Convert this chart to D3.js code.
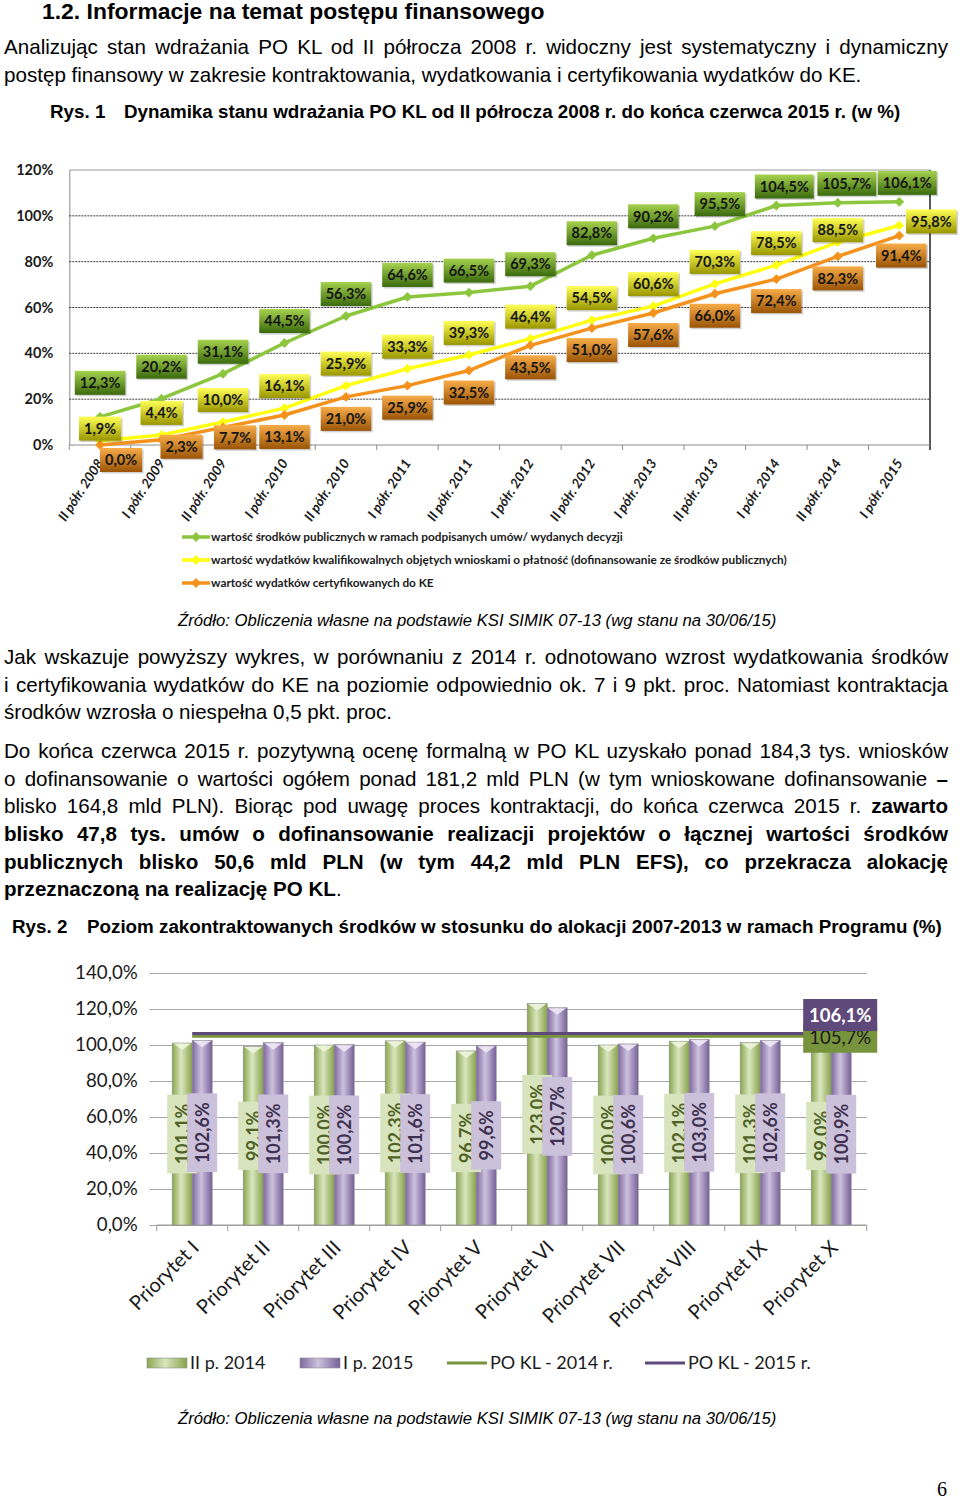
<!DOCTYPE html>
<meta charset="utf-8">
<html>
<head>
<style>
  body {
    margin: 0;
    width: 960px;
    height: 1499px;
    position: relative;
    overflow: hidden;
    background: #fff;
    font-family: "Liberation Sans", Arial, sans-serif;
    color: #000;
  }
  #page { position: absolute; left: 0; top: 0; }
  .t { position: absolute; white-space: nowrap; }
  .j, .l {
    position: absolute;
    left: 4px;
    width: 944px;
    font-size: 20.6px;
    line-height: 27px;
  }
  .j { text-align: justify; text-align-last: justify; }
  .l { text-align: left; }
  .cap { font-size: 18.8px; font-weight: bold; line-height: 22px; }
  .src { font-size: 16.7px; font-style: italic; line-height: 20px; left: 178px; }
  .axis text { font-family: Lato, sans-serif; }
</style>
</head>
<body>
<svg id="page" width="960" height="1499"></svg>

<div class="t" style="left:42px;top:0px;font-size:22.9px;font-weight:bold;line-height:22px">1.2. Informacje na temat postępu finansowego</div>
<div class="j" style="top:32.5px">Analizując stan wdrażania PO KL od II półrocza 2008 r. widoczny jest systematyczny i dynamiczny</div>
<div class="l" style="top:60.5px">postęp finansowy w zakresie kontraktowania, wydatkowania i certyfikowania wydatków do KE.</div>
<div class="t cap" style="left:50px;top:101px">Rys. 1</div>
<div class="t cap" style="left:124px;top:101px">Dynamika stanu wdrażania PO KL od II półrocza 2008 r. do końca czerwca 2015 r. (w %)</div>

<div class="t src" style="top:611px">Źródło: Obliczenia własne na podstawie KSI SIMIK 07-13 (wg stanu na 30/06/15)</div>

<div class="j" style="top:642.5px">Jak wskazuje powyższy wykres, w porównaniu z 2014 r. odnotowano wzrost wydatkowania środków</div>
<div class="j" style="top:670.5px">i certyfikowania wydatków do KE na poziomie odpowiednio ok. 7 i 9 pkt. proc. Natomiast kontraktacja</div>
<div class="l" style="top:697.5px">środków wzrosła o niespełna 0,5 pkt. proc.</div>

<div class="j" style="top:736.5px">Do końca czerwca 2015 r. pozytywną ocenę formalną w PO KL uzyskało ponad 184,3 tys. wniosków</div>
<div class="j" style="top:764.5px">o dofinansowanie o wartości ogółem ponad 181,2 mld PLN (w tym wnioskowane dofinansowanie <b>–</b></div>
<div class="j" style="top:791.5px">blisko 164,8 mld PLN). Biorąc pod uwagę proces kontraktacji, do końca czerwca 2015 r. <b>zawarto</b></div>
<div class="j" style="top:819.5px"><b>blisko 47,8&nbsp;tys. umów o&nbsp;dofinansowanie realizacji projektów o łącznej wartości środków</b></div>
<div class="j" style="top:847.5px"><b>publicznych blisko 50,6&nbsp;mld&nbsp;PLN (w tym 44,2 mld PLN EFS), co przekracza alokację</b></div>
<div class="l" style="top:874.5px"><b>przeznaczoną na realizację PO KL</b>.</div>

<div class="t cap" style="left:12px;top:916px">Rys. 2</div>
<div class="t cap" style="left:87px;top:916px">Poziom zakontraktowanych środków w stosunku do alokacji 2007-2013 w ramach Programu (%)</div>

<div class="t src" style="top:1409px">Źródło: Obliczenia własne na podstawie KSI SIMIK 07-13 (wg stanu na 30/06/15)</div>
<div class="t" style="left:937px;top:1480px;font-family:'Liberation Serif',serif;font-size:20px;line-height:19px">6</div>

<script src="https://cdn.jsdelivr.net/npm/d3@7"></script>
<script>
// ---- data, chart 1 ----
var periods = ["II półr. 2008", "I półr. 2009", "II półr. 2009", "I półr. 2010", "II półr. 2010",
    "I półr. 2011", "II półr. 2011", "I półr. 2012", "II półr. 2012", "I półr. 2013",
    "II półr. 2013", "I półr. 2014", "II półr. 2014", "I półr. 2015"];
var contracted = [12.3, 20.2, 31.1, 44.5, 56.3, 64.6, 66.5, 69.3, 82.8, 90.2, 95.5, 104.5, 105.7, 106.1];
var spent = [1.9, 4.4, 10.0, 16.1, 25.9, 33.3, 39.3, 46.4, 54.5, 60.6, 70.3, 78.5, 88.5, 95.8];
var certified = [0.0, 2.3, 7.7, 13.1, 21.0, 25.9, 32.5, 43.5, 51.0, 57.6, 66.0, 72.4, 82.3, 91.4];
var seriesNames1 = [
    "wartość środków publicznych w ramach podpisanych umów/ wydanych decyzji",
    "wartość wydatków kwalifikowalnych objętych wnioskami o płatność (dofinansowanie ze środków publicznych)",
    "wartość wydatków certyfikowanych do KE"];
var yTicks1 = [0, 20, 40, 60, 80, 100, 120];

// ---- data, chart 2 ----
var priorities = ["Priorytet I", "Priorytet II", "Priorytet III", "Priorytet IV", "Priorytet V",
    "Priorytet VI", "Priorytet VII", "Priorytet VIII", "Priorytet IX", "Priorytet X"];
var share2014 = [101.1, 99.1, 100.0, 102.3, 96.7, 123.0, 100.0, 102.1, 101.3, 99.0];
var share2015 = [102.6, 101.3, 100.2, 101.6, 99.6, 120.7, 100.6, 103.0, 102.6, 100.9];
var barSeries2 = ["II p. 2014", "I p. 2015"];
var lineSeries2 = ["PO KL - 2014 r.", "PO KL - 2015 r."];
var lineValues2 = [105.7, 106.1];
var yTicks2 = [0, 20, 40, 60, 80, 100, 120, 140];

// keep every paragraph line on one line (shrink a touch if the font runs wide)
document.querySelectorAll(".j, .l").forEach(function (el) {
    var fs = parseFloat(getComputedStyle(el).fontSize);
    while (el.getBoundingClientRect().height > 30 && fs > 14) {
        fs -= 0.1;
        el.style.fontSize = fs + "px";
    }
});

var pl = d3.formatLocale({ decimal: ",", thousands: " ", grouping: [3], currency: ["", " zł"] });
var fmt = pl.format(".1f");
var pct = function (v) { return fmt(v) + "%"; };

var svg = d3.select("#page");
var defs = svg.append("defs");

function vGrad(id, top, bottom) {
    var g = defs.append("linearGradient").attr("id", id)
        .attr("x1", 0).attr("y1", 0).attr("x2", 0).attr("y2", 1);
    g.append("stop").attr("offset", "0%").attr("stop-color", top);
    g.append("stop").attr("offset", "100%").attr("stop-color", bottom);
}
function hGrad(id, stops) {
    var g = defs.append("linearGradient").attr("id", id)
        .attr("x1", 0).attr("y1", 0).attr("x2", 1).attr("y2", 0);
    stops.forEach(function (s) {
        g.append("stop").attr("offset", s[0]).attr("stop-color", s[1]);
    });
}

// ================= chart 1 =================
var c1 = { left: 69.3, right: 930, top: 170, bottom: 445 };

var x1 = d3.scaleBand().domain(periods).range([c1.left, c1.right]);
var y1 = d3.scaleLinear().domain([0, 120]).range([c1.bottom, c1.top]);
var cx1 = function (p) { return x1(p) + x1.bandwidth() / 2; };

var g1 = svg.append("g");

// grid + y labels
g1.append("g").attr("class", "axis")
    .attr("transform", "translate(" + c1.left + ",0)")
    .call(d3.axisLeft(y1).tickValues(yTicks1).tickSize(0).tickPadding(16)
        .tickFormat(function (d) { return d + "%"; }))
    .call(function (g) {
        g.select(".domain").attr("stroke", "#8c8c8c");
        g.selectAll("text").attr("font-size", 14.5).attr("font-weight", "bold").attr("fill", "#1a1a1a");
    });

g1.append("g").selectAll("line")
    .data(yTicks1.filter(function (d) { return d > 0 && d < 120; }))
    .enter().append("line")
    .attr("x1", c1.left).attr("x2", c1.right)
    .attr("y1", function (d) { return y1(d); }).attr("y2", function (d) { return y1(d); })
    .attr("stroke", "#3a3a3a").attr("stroke-width", 1).attr("stroke-dasharray", "2,1");

g1.append("line").attr("x1", c1.left).attr("x2", c1.right)
    .attr("y1", y1(120)).attr("y2", y1(120)).attr("stroke", "#9a9a9a");
g1.append("line").attr("x1", c1.right).attr("x2", c1.right)
    .attr("y1", y1(120)).attr("y2", y1(0) + 5).attr("stroke", "#222").attr("stroke-width", 1.5);

// x axis: line, boundary ticks, rotated labels
g1.append("line").attr("x1", c1.left).attr("x2", c1.right)
    .attr("y1", y1(0)).attr("y2", y1(0)).attr("stroke", "#8c8c8c");
g1.append("g").selectAll("line")
    .data(periods)
    .enter().append("line")
    .attr("x1", function (p) { return x1(p); }).attr("x2", function (p) { return x1(p); })
    .attr("y1", y1(0)).attr("y2", y1(0) + 5).attr("stroke", "#8c8c8c");

g1.append("g").selectAll("text")
    .data(periods)
    .enter().append("text")
    .attr("transform", function (p) { return "translate(" + (cx1(p) + 4) + "," + (y1(0) + 18) + ") rotate(-57)"; })
    .attr("text-anchor", "end")
    .attr("font-family", "Lato, sans-serif")
    .attr("font-size", 13.5).attr("font-weight", "bold").attr("font-style", "italic")
    .attr("fill", "#1a1a1a")
    .text(function (p) { return p; });

// series
var series1 = [
    { key: "contracted", name: seriesNames1[0], values: contracted, color: "#8cc63e", box: ["#a6d24e", "#3a6a0e"], side: -1 },
    { key: "spent", name: seriesNames1[1], values: spent, color: "#ffff10", box: ["#ffff55", "#999600"], side: -1 },
    { key: "certified", name: seriesNames1[2], values: certified, color: "#f5921e", box: ["#f8ac48", "#9a5406"], side: 1 }
];
// hand nudges for labels where Excel moved them off the default spot
var labelNudge1 = {
    contracted: { 0: [0, -12], 1: [0, -10], 10: [5, 0], 11: [8, 3], 12: [9, 3], 13: [8, 3] },
    spent: { 0: [0, 10], 12: [0, 10], 13: [32, 18] },
    certified: { 0: [21, -7], 1: [20, -15], 2: [12, -12], 13: [2, -2] }
};

series1.forEach(function (s) { vGrad("box-" + s.key, s.box[0], s.box[1]); });

var line1 = d3.line()
    .x(function (d, i) { return cx1(periods[i]); })
    .y(function (d) { return y1(d); });

var diamond = d3.symbol().type(d3.symbolSquare).size(48);

series1.forEach(function (s) {
    g1.append("path").datum(s.values)
        .attr("d", line1).attr("fill", "none")
        .attr("stroke", s.color).attr("stroke-width", 3.5).attr("stroke-linejoin", "round");
    g1.append("g").selectAll("path")
        .data(s.values)
        .enter().append("path")
        .attr("d", diamond)
        .attr("transform", function (d, i) { return "translate(" + cx1(periods[i]) + "," + y1(d) + ") rotate(45)"; })
        .attr("fill", s.color);
});

series1.forEach(function (s) {
    var lg = g1.append("g");
    s.values.forEach(function (v, i) {
        var n = labelNudge1[s.key][i] || [0, 0];
        var lx = cx1(periods[i]) + n[0];
        var ly = y1(v) + s.side * 22 + n[1];
        var grp = lg.append("g").attr("transform", "translate(" + lx + "," + ly + ")");
        var txt = grp.append("text")
            .attr("text-anchor", "middle").attr("dy", "0.36em")
            .attr("font-family", "Lato, sans-serif").attr("font-size", 14.5).attr("font-weight", "bold")
            .attr("fill", "#141414")
            .text(pct(v));
        var w = txt.node().getComputedTextLength() + 10;
        grp.insert("rect", "text")
            .attr("x", -w / 2 + 1.5).attr("y", -12 + 1.5).attr("width", w).attr("height", 24)
            .attr("fill", "#000").attr("opacity", 0.18);
        grp.insert("rect", "text")
            .attr("x", -w / 2).attr("y", -12).attr("width", w).attr("height", 24)
            .attr("fill", "url(#box-" + s.key + ")");
    });
});

// legend 1
var leg1 = g1.append("g");
series1.forEach(function (s, i) {
    var ly = 537 + i * 23;
    leg1.append("line").attr("x1", 182).attr("x2", 210).attr("y1", ly).attr("y2", ly)
        .attr("stroke", s.color).attr("stroke-width", 3.5);
    leg1.append("path").attr("d", diamond)
        .attr("transform", "translate(196," + ly + ") rotate(45)").attr("fill", s.color);
    leg1.append("text").attr("x", 211).attr("y", ly).attr("dy", "0.35em")
        .attr("font-family", "Lato, sans-serif").attr("font-size", 11.8).attr("font-weight", "bold")
        .attr("fill", "#1a1a1a").text(s.name);
});

// ================= chart 2 =================
var c2 = { left: 156.7, right: 866.7, top: 973, bottom: 1225 };
var x2 = d3.scaleBand().domain(priorities).range([c2.left, c2.right]);
var xs2 = d3.scaleBand().domain(barSeries2).range([0, x2.bandwidth()]).paddingInner(0).paddingOuter(0.775);
var y2 = d3.scaleLinear().domain([0, 140]).range([c2.bottom, c2.top]);
var cx2 = function (p) { return x2(p) + x2.bandwidth() / 2; };

var g2 = svg.append("g");

g2.append("g").attr("class", "axis")
    .attr("transform", "translate(" + c2.left + ",0)")
    .call(d3.axisLeft(y2).tickValues(yTicks2).tickSize(-(c2.right - c2.left)).tickPadding(19)
        .tickFormat(pct))
    .call(function (g) {
        g.select(".domain").remove();
        g.selectAll(".tick line").attr("stroke", "#a6a6a6").attr("x1", -7);
        g.selectAll("text").attr("font-size", 18.7).attr("fill", "#1a1a1a");
    });

g2.append("line").attr("x1", c2.left).attr("x2", c2.right)
    .attr("y1", y2(0)).attr("y2", y2(0)).attr("stroke", "#9a9a9a");
g2.append("g").selectAll("line")
    .data(priorities.concat(["end"]))
    .enter().append("line")
    .attr("x1", function (p, i) { return c2.left + i * x2.step(); })
    .attr("x2", function (p, i) { return c2.left + i * x2.step(); })
    .attr("y1", y2(0)).attr("y2", y2(0) + 6).attr("stroke", "#9a9a9a");

g2.append("g").selectAll("text")
    .data(priorities)
    .enter().append("text")
    .attr("transform", function (p) { return "translate(" + (cx2(p) + 8) + "," + (y2(0) + 24) + ") rotate(-45)"; })
    .attr("text-anchor", "end")
    .attr("font-family", "Lato, sans-serif").attr("font-size", 20)
    .attr("fill", "#1a1a1a")
    .text(function (p) { return p; });

var bars2 = [
    { name: barSeries2[0], values: share2014, id: "cylG", stops: [["0%", "#8aa64f"], ["45%", "#d9e6bf"], ["100%", "#88a34b"]],
      cap: "#eef5dd", lab: "#d7e4bd", labText: "#4f6228" },
    { name: barSeries2[1], values: share2015, id: "cylP", stops: [["0%", "#7d66a0"], ["45%", "#cdc2dd"], ["100%", "#76609a"]],
      cap: "#efe9f6", lab: "#ccc1da", labText: "#3f3151" }
];
bars2.forEach(function (b) { hGrad(b.id, b.stops); });

bars2.forEach(function (b) {
    var bg = g2.append("g");
    bg.selectAll("rect")
        .data(b.values)
        .enter().append("rect")
        .attr("x", function (d, i) { return x2(priorities[i]) + xs2(b.name); })
        .attr("y", function (d) { return y2(d); })
        .attr("width", xs2.bandwidth())
        .attr("height", function (d) { return y2(0) - y2(d); })
        .attr("fill", "url(#" + b.id + ")")
        .attr("stroke", "#8c8c8c").attr("stroke-width", 0.6);
    bg.selectAll("polygon")
        .data(b.values)
        .enter().append("polygon")
        .attr("points", function (d, i) {
            var x0 = x2(priorities[i]) + xs2(b.name), w = xs2.bandwidth(), t = y2(d);
            return [[x0 + 1, t + 0.5], [x0 + w - 1, t + 0.5], [x0 + w / 2, t + 7]].join(" ");
        })
        .attr("fill", b.cap).attr("opacity", 0.9);
});

// total lines
var lineColors2 = ["#77933c", "#5f497a"];
lineValues2.forEach(function (v, k) {
    g2.append("line")
        .attr("x1", cx2(priorities[0])).attr("x2", cx2(priorities[priorities.length - 1]))
        .attr("y1", y2(v) + (k === 0 ? 1.5 : -0.5)).attr("y2", y2(v) + (k === 0 ? 1.5 : -0.5))
        .attr("stroke", lineColors2[k]).attr("stroke-width", 3);
});

// bar value labels
bars2.forEach(function (b) {
    var lg = g2.append("g");
    b.values.forEach(function (v, i) {
        var bx = x2(priorities[i]) + xs2(b.name) + xs2.bandwidth() / 2;
        var by = y2(v / 2);
        var grp = lg.append("g").attr("transform", "translate(" + bx + "," + by + ") rotate(-90)");
        var txt = grp.append("text").attr("text-anchor", "middle").attr("dy", "0.36em")
            .attr("font-family", "Lato, sans-serif").attr("font-size", 18).attr("font-weight", "bold")
            .attr("fill", b.labText).text(pct(v));
        var w = txt.node().getComputedTextLength() + 18;
        grp.insert("rect", "text").attr("x", -w / 2).attr("y", -15).attr("width", w).attr("height", 30)
            .attr("fill", b.lab);
    });
});

// total line end labels (2014 one sits partly under the 2015 one)
var endX = cx2(priorities[priorities.length - 1]) + 9;
var endLab = g2.append("g");
[[0, 3, 30], [1, -19, 32]].forEach(function (o) {
    var k = o[0], v = lineValues2[k], h = o[2];
    var grp = endLab.append("g").attr("transform", "translate(" + endX + "," + (y2(v) + o[1]) + ")");
    grp.append("rect").attr("x", -37).attr("y", -h / 2).attr("width", 74).attr("height", h)
        .attr("fill", lineColors2[k]);
    grp.append("text").attr("text-anchor", "middle").attr("dy", "0.36em")
        .attr("font-family", "Lato, sans-serif").attr("font-size", 18.5)
        .attr("font-weight", k === 1 ? "bold" : "normal")
        .attr("fill", k === 1 ? "#fff" : "#1a1a1a").text(pct(v));
});

// legend 2
var leg2 = g2.append("g").attr("font-family", "Lato, sans-serif").attr("font-size", 18).attr("fill", "#1a1a1a");
var legItems2 = [
    { type: "bar", name: barSeries2[0], x: 147, fill: "url(#cylG)" },
    { type: "bar", name: barSeries2[1], x: 300, fill: "url(#cylP)" },
    { type: "line", name: lineSeries2[0], x: 447, color: lineColors2[0] },
    { type: "line", name: lineSeries2[1], x: 645, color: lineColors2[1] }
];
legItems2.forEach(function (it) {
    var ly = 1363;
    if (it.type === "bar") {
        leg2.append("rect").attr("x", it.x).attr("y", ly - 5).attr("width", 40).attr("height", 10)
            .attr("fill", it.fill).attr("stroke", "#8c8c8c").attr("stroke-width", 0.6);
    } else {
        leg2.append("line").attr("x1", it.x).attr("x2", it.x + 40).attr("y1", ly).attr("y2", ly)
            .attr("stroke", it.color).attr("stroke-width", 3);
    }
    leg2.append("text").attr("x", it.x + 43).attr("y", ly).attr("dy", "0.36em").text(it.name);
});
</script>
</body>
</html>
